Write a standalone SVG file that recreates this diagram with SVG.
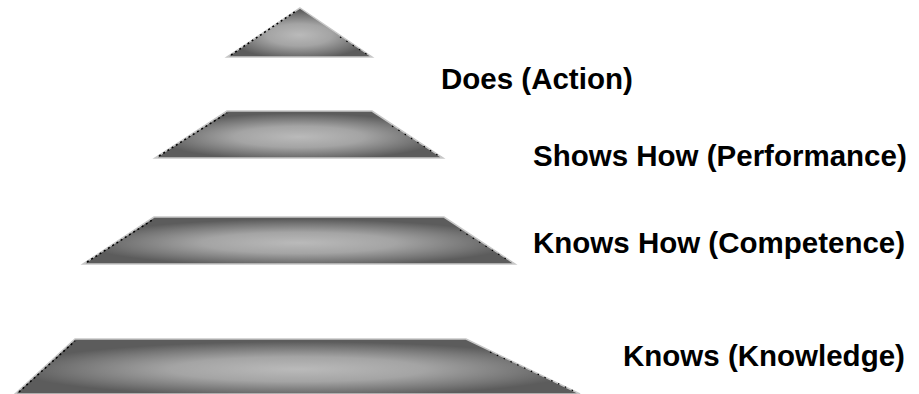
<svg xmlns="http://www.w3.org/2000/svg" width="919" height="394" viewBox="0 0 919 394">
  <style>
    .lvl { fill: url(#g); stroke: #c8c8c8; stroke-width: 1.5; stroke-linejoin: miter; }
    .stair { fill: none; stroke: #000; stroke-width: 1.5; stroke-dasharray: 2 3; }
    .stair-r { fill: none; stroke: #000; stroke-width: 1.2; stroke-dasharray: 1.5 6; }
    .lbl { font-family: "Liberation Sans", Arial, sans-serif; font-weight: bold; font-size: 29.5px; fill: #000; }
  </style>
  <defs>
    <radialGradient id="g" cx="0.5" cy="0.55" r="0.5">
      <stop offset="0" stop-color="#bababa"/>
      <stop offset="0.45" stop-color="#a4a4a4"/>
      <stop offset="0.8" stop-color="#777"/>
      <stop offset="1" stop-color="#5c5c5c"/>
    </radialGradient>
  </defs>
  <rect width="919" height="394" fill="#fff"/>
  <g id="does">
    <polygon class="lvl" points="300,8 372,57 227,57"/>
    <line class="stair" x1="231" y1="55" x2="296" y2="11"/>
    <line class="stair-r" x1="340" y1="37" x2="368" y2="55"/>
    <text class="lbl" x="441" y="89">Does (Action)</text>
  </g>
  <g id="shows-how">
    <polygon class="lvl" points="227,111 372,111 443,158 155,158"/>
    <line class="stair" x1="159" y1="156" x2="227" y2="113"/>
    <line class="stair-r" x1="392" y1="126" x2="439" y2="156"/>
    <text class="lbl" x="533" y="166">Shows How (Performance)</text>
  </g>
  <g id="knows-how">
    <polygon class="lvl" points="154,217 444,217 515,264 83,264"/>
    <line class="stair" x1="87" y1="262" x2="154" y2="219"/>
    <line class="stair-r" x1="460" y1="230" x2="511" y2="262"/>
    <text class="lbl" x="533" y="253">Knows How (Competence)</text>
  </g>
  <g id="knows">
    <polygon class="lvl" points="75,339 466,339 580,394 15,394"/>
    <line class="stair" x1="19" y1="392" x2="75" y2="341"/>
    <line class="stair-r" x1="490" y1="352" x2="576" y2="392"/>
    <text class="lbl" x="623" y="366">Knows (Knowledge)</text>
  </g>
  <g id="connectors"/>
</svg>
